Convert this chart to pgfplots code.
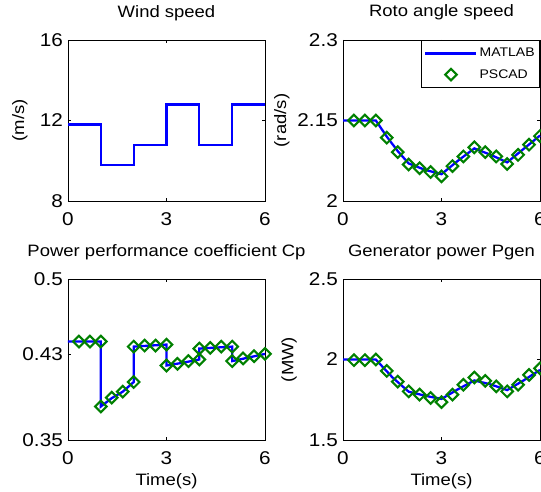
\documentclass[border=0pt]{standalone}
\usepackage{pgfplots}
\pgfplotsset{compat=1.18}
\usepackage{fontspec}
\setmainfont{Liberation Sans}[FakeStretch=1.12]

\definecolor{mblue}{rgb}{0,0,1}
\definecolor{mgreen}{rgb}{0,0.5,0}

\pgfplotsset{
  panel/.style={
    scale only axis, width=197pt, height=161pt, anchor=south west,
    xmin=0, xmax=6, xtick={0,3,6},
    tick align=inside, major tick length=3pt,
    axis line style={line width=0.8pt},
    every tick/.style={black, line width=0.5pt},
    clip=false,
    /pgf/number format/assume math mode=true,
    tick label style={font=\fontsize{18.5}{20}\selectfont},
    xticklabel style={anchor=base, yshift=-24pt},
    yticklabel style={anchor=east, inner sep=0pt, xshift=-5pt},
    title style={at={(0.5,1)}, anchor=base, yshift=17pt, font=\fontsize{16.5}{18}\selectfont},
    label style={font=\fontsize{16.5}{18}\selectfont},
    xlabel style={at={(axis description cs:0.5,0)}, anchor=base, yshift=-45pt},
  },
  mline/.style={mblue, line width=2.3pt},
  pscad/.style={only marks, mark=square, mark size=4.1pt,
    mark options={rotate=45, draw=mgreen, line width=2.1pt, fill=none}},
  linelegend/.style={legend image code/.code={\draw[##1] (0pt,0pt) -- (51pt,0pt);}},
  marklegend/.style={legend image code/.code={\draw[##1] plot coordinates {(25.5pt,0pt)};}},
}

\begin{document}
\begin{tikzpicture}
  % wind speed
  \begin{axis}[panel, at={(68pt,290pt)},
      title={Wind speed}, ylabel={(m/s)},
      ylabel style={at={(axis description cs:-0.244,0.5)}, anchor=center},
      ymin=8, ymax=16, ytick={8,12,16}]
    \addplot[mline, const plot mark left] coordinates {
        (0,11.8) (1,9.8) (2,10.8) (3,12.8) (4,10.8) (5,12.8) (6,12.8)
      };
  \end{axis}

  % rotor speed
  \begin{axis}[panel, at={(343pt,290pt)},
      title={Roto angle speed}, ylabel={(rad/s)},
      ylabel style={at={(axis description cs:-0.31,0.5)}, anchor=center},
      ymin=2, ymax=2.3, ytick={2,2.15,2.3}, yticklabels={2,2.15,2.3},
      legend style={at={(1,1)}, anchor=north east, draw=black, line width=0.8pt,
        font=\fontsize{12.5}{14}\selectfont, inner ysep=6pt, inner xsep=3pt,
        row sep=7pt, cells={anchor=west}},
    ]
    \addplot[mline, linelegend]
      coordinates {
        (0,2.15) (1,2.15) (1.333,2.12) (1.667,2.093) (2,2.07) (2.5,2.058)
        (3,2.05) (3.5,2.075) (4,2.098) (4.5,2.086) (5,2.072) (5.5,2.097) (6,2.122)
      };
    \addplot[pscad, marklegend]
      coordinates {
        (0.333,2.15) (0.667,2.15) (1,2.15) (1.333,2.118) (1.667,2.091) (2,2.068)
        (2.333,2.061) (2.667,2.054) (3,2.046) (3.333,2.065) (3.667,2.083) (4,2.100)
        (4.333,2.091) (4.667,2.083) (5,2.069) (5.333,2.086) (5.667,2.105) (6,2.121)
      };
    \legend{MATLAB, PSCAD}
  \end{axis}

  % power coefficient
  \begin{axis}[panel, at={(68pt,51pt)},
      title={Power performance coefficient Cp}, xlabel={Time(s)},
      ymin=0.35, ymax=0.5, ytick={0.35,0.43,0.5}, yticklabels={0.35,0.43,0.5}]
    \addplot[mline] coordinates {
        (0,0.4417) (1,0.4417) (1,0.3812) (1.333,0.389) (1.667,0.395) (2,0.404)
        (2,0.437) (3,0.4389) (3,0.4194) (3.5,0.422) (4,0.425) (4,0.4352)
        (5,0.437) (5,0.4235) (6,0.4302)
      };
    \addplot[pscad] coordinates {
        (0.333,0.4417) (0.667,0.4417) (1,0.4417) (1,0.3812) (1.333,0.3895)
        (1.667,0.3951) (2,0.404) (2,0.437) (2.333,0.438) (2.667,0.438)
        (3,0.4389) (3,0.4194) (3.333,0.421) (3.667,0.4235) (4,0.425)
        (4,0.4352) (4.333,0.4358) (4.667,0.437) (5,0.437) (5,0.4235)
        (5.333,0.426) (5.667,0.4281) (6,0.4302)
      };
  \end{axis}

  % generator power
  \begin{axis}[panel, at={(343pt,51pt)},
      title={Generator power Pgen}, xlabel={Time(s)}, ylabel={(MW)},
      ylabel style={at={(axis description cs:-0.274,0.5)}, anchor=center},
      ymin=1.5, ymax=2.5, ytick={1.5,2,2.5}, yticklabels={1.5,2,2.5}]
    \addplot[mline] coordinates {
        (0,2) (1,2) (1.5,1.89) (2,1.80) (2.5,1.775) (3,1.755) (3.5,1.815)
        (4,1.87) (4.5,1.845) (5,1.81) (5.5,1.87) (6,1.935)
      };
    \addplot[pscad] coordinates {
        (0.333,1.996) (0.667,1.996) (1,2.0) (1.333,1.929) (1.667,1.863) (2,1.802)
        (2.333,1.782) (2.667,1.761) (3,1.735) (3.333,1.782) (3.667,1.843) (4,1.888)
        (4.333,1.867) (4.667,1.833) (5,1.802) (5.333,1.843) (5.667,1.904) (6,1.945)
      };
  \end{axis}

  \pgfresetboundingbox
  \useasboundingbox (0,0) rectangle (541pt,491pt);
\end{tikzpicture}
\end{document}
